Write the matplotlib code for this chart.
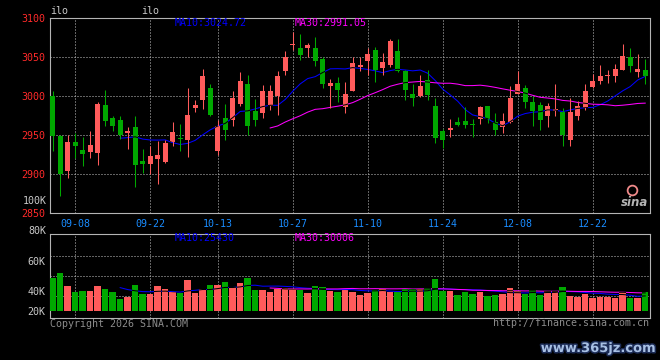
import numpy as np
import pandas as pd
import matplotlib
matplotlib.use('Agg')
import matplotlib.pyplot as plt
import matplotlib.patheffects as pe
from matplotlib.path import Path
from matplotlib.lines import Line2D

# --- daily K-line data, 2025-09-03 .. 2025-12-31 ---
opens = [3000.4, 2949.1, 2903.4, 2941.5, 2930.8, 2927.8, 2926.9, 2988.9, 2972.2, 2969.7,
         2952.1, 2960.3, 2916.7, 2913.2, 2919.2, 2915.8, 2940.6, 2946.6, 2943.2, 2984.2,
         2995.3, 3010.7, 2929.1, 2972.2, 2968.8, 2990.2, 3015.8, 2980.3, 2978.5, 2987.0,
         3000.2, 3032.6, 3065.2, 3061.8, 3061.3, 3061.8, 3047.6, 3012.4, 3017.1, 2985.4,
         3006.8, 3036.7, 3044.4, 3059.4, 3035.9, 3039.3, 3057.2, 3031.6, 3002.9, 2999.6,
         3020.9, 2987.6, 2955.5, 2956.0, 2966.8, 2968.3, 2964.5, 2970.9, 2987.6, 2966.2,
         2960.3, 2966.2, 3003.0, 3010.3, 2992.7, 2988.9, 2973.9, 2980.8, 2979.1, 2944.0,
         2973.9, 2984.6, 3011.1, 3019.7, 3025.2, 3025.2, 3033.8, 3050.0, 3030.3, 3033.8]
highs = [3006.0, 2950.4, 2950.4, 2952.6, 2947.4, 2955.6, 2991.9, 3008.1, 2974.0, 2974.0,
         2960.3, 2974.8, 2932.1, 2935.5, 2942.3, 2944.0, 2966.2, 2964.1, 3010.3, 2994.4,
         3034.6, 3015.8, 2969.7, 2990.2, 3006.8, 3031.2, 3027.4, 2996.6, 3014.5, 3014.0,
         3031.6, 3057.2, 3081.8, 3079.6, 3067.5, 3075.6, 3050.0, 3021.8, 3024.4, 3017.9,
         3050.0, 3050.0, 3061.5, 3062.4, 3055.1, 3073.5, 3073.5, 3033.7, 3015.3, 3027.3,
         3033.7, 2997.4, 2957.7, 2970.9, 2973.5, 2985.6, 2970.5, 2987.6, 2987.6, 2978.2,
         2978.2, 3012.4, 3031.6, 3014.5, 3000.4, 2992.3, 2991.0, 3015.8, 2984.6, 2997.4,
         2993.2, 3015.8, 3028.6, 3040.2, 3033.8, 3041.5, 3067.1, 3061.5, 3054.3, 3047.4]
lows = [2929.0, 2871.4, 2894.9, 2920.5, 2909.8, 2920.5, 2911.9, 2962.0, 2955.6, 2944.9,
        2932.5, 2882.9, 2901.3, 2900.4, 2887.6, 2914.1, 2936.3, 2929.9, 2921.4, 2979.1,
        2983.8, 2974.5, 2924.8, 2943.2, 2962.0, 2986.8, 2950.4, 2962.0, 2971.8, 2981.5,
        2976.0, 3026.5, 3059.0, 3045.7, 3050.0, 3038.6, 3009.8, 2984.0, 2992.1, 2978.2,
        3006.8, 3031.6, 3026.5, 3017.9, 3026.5, 3036.7, 3030.8, 2995.3, 2986.7, 2998.3,
        2995.3, 2939.8, 2933.3, 2947.0, 2961.1, 2958.5, 2947.4, 2964.5, 2965.4, 2950.4,
        2952.6, 2965.4, 3002.1, 2984.6, 2962.0, 2956.8, 2960.3, 2973.9, 2935.5, 2935.5,
        2968.8, 2982.5, 3010.3, 3015.4, 3016.7, 3017.5, 3032.9, 3030.3, 3024.4, 3015.4]
closes = [2948.3, 2900.0, 2941.5, 2935.5, 2925.6, 2937.6, 2990.2, 2967.5, 2962.0, 2950.4,
          2955.6, 2911.1, 2912.4, 2923.5, 2924.4, 2940.2, 2954.3, 2944.9, 2976.1, 2988.9,
          3026.1, 2975.2, 2962.0, 2956.8, 2997.9, 3019.7, 2962.0, 2969.7, 3006.0, 3006.0,
          3025.2, 3050.0, 3066.8, 3052.1, 3065.8, 3044.4, 3014.9, 3017.1, 3008.1, 3002.5,
          3042.3, 3039.3, 3054.2, 3033.7, 3043.6, 3070.0, 3031.6, 3008.1, 2997.4, 3012.4,
          3001.7, 2946.2, 2944.0, 2959.2, 2963.0, 2962.2, 2962.8, 2985.9, 2970.9, 2956.8,
          2967.5, 2997.9, 3015.8, 2991.9, 2980.3, 2968.8, 2986.8, 2983.3, 2950.4, 2979.1,
          2986.8, 3006.8, 3019.7, 3026.1, 3027.4, 3035.0, 3051.7, 3038.0, 3034.6, 3025.2]
volumes = [56800, 65400, 42500, 32200, 33900, 33900, 42500, 37300, 32200, 20100,
           23600, 44200, 28700, 28700, 42500, 37300, 32200, 30400, 52800, 30400,
           37300, 44200, 44200, 49400, 40800, 47600, 56200, 35600, 35600, 32200,
           37300, 39000, 37300, 35600, 30400, 42500, 40800, 33900, 32700, 35600,
           32700, 27000, 29800, 35600, 36600, 32700, 32700, 36600, 36600, 36600,
           39000, 54500, 34400, 34400, 27000, 32700, 28700, 32700, 25800, 27000,
           28700, 39000, 34400, 28700, 35600, 27000, 34400, 34400, 41300, 25300,
           24100, 28700, 22400, 24100, 22900, 22400, 32700, 22400, 22400, 32200]

holidays = pd.date_range('2025-10-01', '2025-10-08')
dates = pd.bdate_range('2025-09-03', '2025-12-31')
dates = dates[~dates.isin(holidays)]
tick_dates = ['2025-09-08', '2025-09-22', '2025-10-13', '2025-10-27',
              '2025-11-10', '2025-11-24', '2025-12-08', '2025-12-22']

price_ticks = [2850, 2900, 2950, 3000, 3050, 3100]
ma_labels = ['MA10:3024.72', 'MA30:2991.05']
vol_ma_labels = ['MA10:25430', 'MA30:30006']

BG = 'black'
RED = '#FF5B5B'
GREEN = '#00A800'
GRID = '#C4C4C4'
FRAME = '#B4B4B4'
VOL_PX = 1720          # volume units per pixel in the lower panel

plt.rcParams.update({'font.family': 'DejaVu Sans Mono', 'font.size': 7.2})

fig = plt.figure(figsize=(6.6, 3.6), dpi=100, facecolor=BG)


def fx(x):
    return x / 660


def fy(y):
    return 1 - y / 360


ax = fig.add_axes([fx(50), fy(213), 600 / 660, 195 / 360], facecolor=BG)
axv = fig.add_axes([fx(50), fy(318.3), 600 / 660, 84 / 360], facecolor=BG)

o, h, l, c = map(np.array, (opens, highs, lows, closes))
v = np.array(volumes)
idx = np.arange(len(c))
colors = np.where(c >= o, RED, GREEN)


def rect_path(xs, bottoms, heights, width):
    verts, codes = [], []
    for x, b, hh in zip(xs, bottoms, heights):
        x0, x1 = x - width / 2, x + width / 2
        verts += [(x0, b), (x1, b), (x1, b + hh), (x0, b + hh), (x0, b)]
        codes += [Path.MOVETO, Path.LINETO, Path.LINETO, Path.LINETO, Path.CLOSEPOLY]
    return Path(verts, codes)


def ma_line(a, y, color, clip):
    # coloured on the background, black where it runs over a body / bar
    a.plot(idx, y, color=color, lw=0.75, zorder=2)
    dark, = a.plot(idx, y, color='black', lw=0.75, zorder=6)
    dark.set_clip_path(clip, a.transData)


# --- candles ---
body_w = 0.68
body_bot = np.minimum(o, c)
body_h = np.maximum(np.abs(c - o), 1.4)
ax.vlines(idx, l, h, colors=colors, lw=0.75, zorder=3)
ax.bar(idx, body_h, bottom=body_bot, width=body_w, color=colors, lw=0, zorder=4)
bodies = rect_path(idx, body_bot, body_h, body_w)

cs = pd.Series(c)
ma_line(ax, cs.rolling(10).mean(), '#0000FF', bodies)
ma_line(ax, cs.rolling(30).mean(), '#FF00FF', bodies)

# --- volume ---
bar_w = 0.87
axv.bar(idx, v, width=bar_w, color=colors, lw=0, zorder=4)
bars = rect_path(idx, np.zeros(len(v)), v, bar_w)
vs = pd.Series(v)
ma_line(axv, vs.rolling(10).mean(), '#0000FF', bars)
ma_line(axv, vs.rolling(30).mean(), '#FF00FF', bars)

# --- axes ---
tick_pos = [dates.get_loc(pd.Timestamp(d)) for d in tick_dates]
tick_lab = [pd.Timestamp(d).strftime('%m-%d') for d in tick_dates]
xlim = (-0.36, len(c) - 0.36)
dots = (0, (1, 2))

ax.set_xlim(*xlim)
ax.set_ylim(price_ticks[0], price_ticks[-1])
ax.set_xticks(tick_pos, tick_lab)
ax.set_yticks(price_ticks, [str(t) for t in price_ticks])
ax.tick_params(axis='x', colors='#1A8CFF', length=0, pad=4.5)
ax.tick_params(axis='y', colors='#FF2A2A', length=0, pad=3.5)
ax.grid(True, color=GRID, ls=dots, lw=0.72)

axv.set_xlim(*xlim)
axv.set_ylim(-7.6 * VOL_PX, 76.4 * VOL_PX)
axv.set_xticks(tick_pos, [''] * len(tick_pos))
vol_tick_px = [260.8, 290.7, 310.7]
axv.set_yticks([(310.7 - y) * VOL_PX for y in vol_tick_px], ['60K', '40K', '20K'])
axv.tick_params(axis='x', length=0)
axv.tick_params(axis='y', colors='#C8C8C8', length=0, pad=3.5)
axv.grid(True, axis='x', color=GRID, ls=dots, lw=0.72)
for y in (255.7, 275.5, 295.5):
    axv.axhline((310.7 - y) * VOL_PX, color=GRID, ls=dots, lw=0.72, zorder=0.5)

for a in (ax, axv):
    for s in a.spines.values():
        s.set_color(FRAME)
        s.set_linewidth(0.8)

# --- texts ---
fig.text(fx(46.5), fy(230.8), '80K', color='#C8C8C8', ha='right', va='center')
fig.text(fx(46.5), fy(200.8), '100K', color='#C8C8C8', ha='right', va='center')
fig.text(fx(175), fy(23), ma_labels[0], color='#0000FF', va='center')
fig.text(fx(295), fy(23), ma_labels[1], color='#FF00FF', va='center')
fig.text(fx(175), fy(238.3), vol_ma_labels[0], color='#0000FF', va='center')
fig.text(fx(295), fy(238.3), vol_ma_labels[1], color='#FF00FF', va='center')
fig.text(fx(50), fy(11.5), 'ilo', color='#C8C8C8', va='center')
fig.text(fx(141), fy(11.5), 'ilo', color='#C8C8C8', va='center')
fig.text(fx(49.5), fy(324), 'Copyright 2026 SINA.COM', color='#8C8C8C', va='center')
fig.text(fx(649.5), fy(323.5), 'http://finance.sina.com.cn', color='#8C8C8C',
         ha='right', va='center')

# sina logo + site watermark
fig.add_artist(Line2D([fx(632)], [fy(190)], marker='o', ms=7, mfc='none', mec='#F08A8A',
                      mew=1.3, transform=fig.transFigure))
fig.text(fx(635), fy(202), 'sina', family='DejaVu Sans', fontsize=8.5, fontweight='bold',
         style='italic', color='#B4B4B4', ha='center', va='center')
fig.text(fx(655), fy(348.5), 'www.365jz.com', family='DejaVu Sans', fontsize=9.4,
         fontweight='bold', color='#A7BFE3', ha='right', va='center',
         path_effects=[pe.withStroke(linewidth=2.2, foreground='#1B2B55')])

fig.savefig('out.png', dpi=100, facecolor=BG)
